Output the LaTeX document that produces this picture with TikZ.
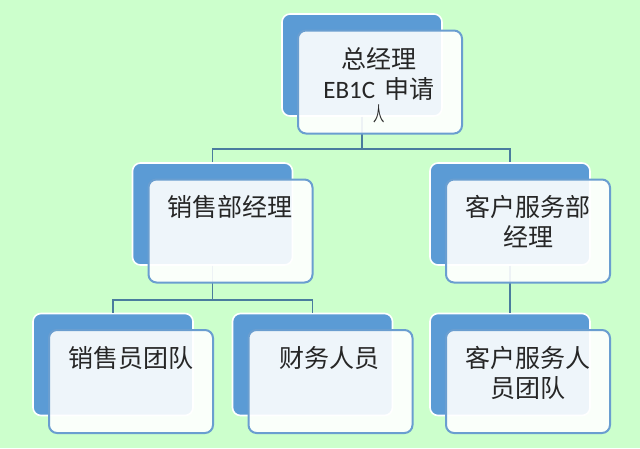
\documentclass[tikz,border=0pt]{standalone}
\usepackage{fontspec}
\setmainfont{Noto Sans CJK SC}
\newfontfamily\latfont{Carlito}
\definecolor{bg}{HTML}{CCFFCC}
\definecolor{backblue}{HTML}{5B9BD5}
\definecolor{frontedge}{HTML}{6A9ED0}
\definecolor{connc}{HTML}{4A7C9E}
\definecolor{txt}{HTML}{262626}
\begin{document}
\begin{tikzpicture}[x=1pt,y=-1pt,
  backbox/.style={fill=backblue,draw=white,line width=1.6pt,rounded corners=8pt,
    minimum width=160pt,minimum height=102pt,inner sep=0pt},
  frontbox/.style={fill=white,fill opacity=0.9,draw=frontedge,line width=2pt,rounded corners=8pt,
    minimum width=164pt,minimum height=103pt,inner sep=0pt},
  conn/.style={draw=connc,line width=1.8pt},
  label/.style={anchor=north,inner sep=0pt,align=center,text=txt,
    font=\fontsize{25pt}{30pt}\selectfont}]
\fill[bg] (0,0) rectangle (640,448);
\useasboundingbox (0,0) rectangle (640,448);
% back boxes
\node[backbox] (t) at (362,65) {};
\node[backbox] (l) at (212.5,214) {};
\node[backbox] (r) at (510,214) {};
\node[backbox] (a) at (113,364.5) {};
\node[backbox] (b) at (312.5,364.5) {};
\node[backbox] (c) at (510,364.5) {};
% connectors
\coordinate (j1) at (362,149);
\coordinate (j2) at (212.5,300);
\draw[conn] (t.south) -- (j1);
\draw[conn] (l.north) |- (j1) -| (r.north);
\draw[conn] (l.south) -- (j2);
\draw[conn] (a.north) |- (j2) -| (b.north);
\draw[conn] (r.south) -- (c.north);
% front boxes
\node[frontbox] (tf) at (380,82) {};
\node[frontbox] (lf) at (230.5,231) {};
\node[frontbox] (rf) at (528,231) {};
\node[frontbox] (af) at (131,381.5) {};
\node[frontbox] (bf) at (330.5,381.5) {};
\node[frontbox] (cf) at (528,381.5) {};
% texts
\node[label] (tt) at (379,47) {总经理\\{\latfont EB1C}\hspace{4pt} 申请};
\node[anchor=center,inner sep=0pt,text=txt,font=\fontsize{25pt}{30pt}\selectfont,xscale=0.45,yscale=0.8] (tt3) at (379,113.5) {人};
\node[label] (lt) at (230,195.5) {销售部经理};
\node[label] (rt) at (528,195.5) {客户服务部\\经理};
\node[label] (at) at (131,346) {销售员团队};
\node[label] (bt) at (329,346) {财务人员};
\node[label] (ct) at (528,346) {客户服务人\\员团队};
\end{tikzpicture}
\end{document}
